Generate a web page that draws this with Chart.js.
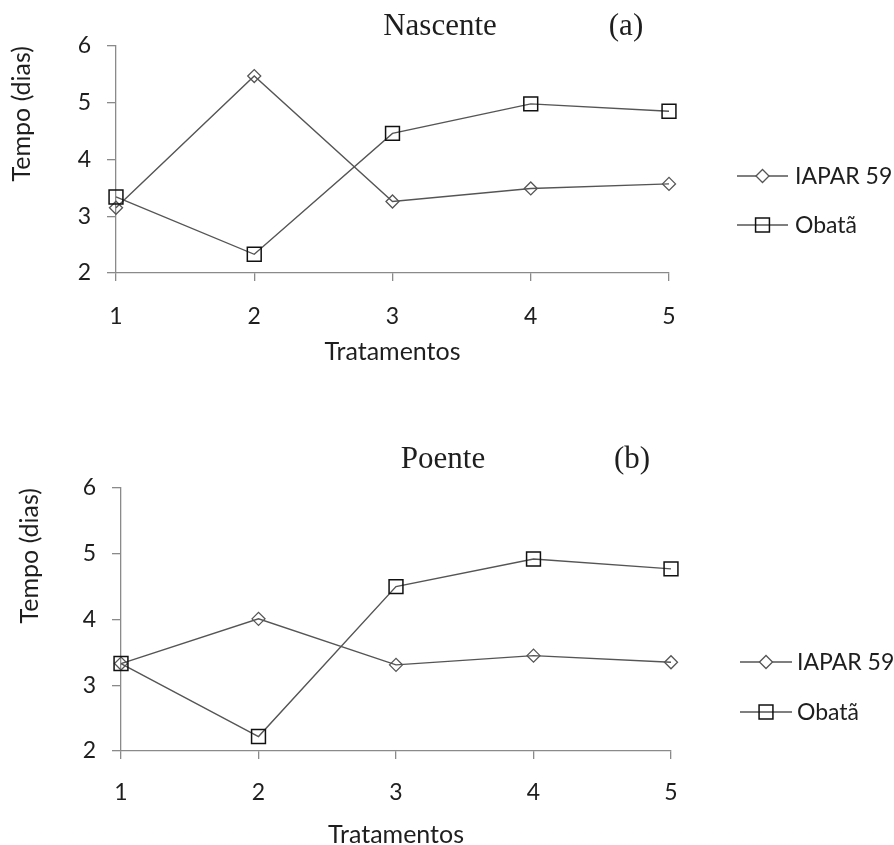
<!DOCTYPE html>
<html>
<head>
<meta charset="utf-8">
<script src="https://cdn.jsdelivr.net/npm/chart.js@4/dist/chart.umd.min.js"></script>
<style>
  html, body { margin: 0; padding: 0; background: #fff; overflow: hidden; }
  #wrap { position: relative; width: 894px; height: 845px; overflow: hidden; }
  .panel { position: absolute; left: 0; }
</style>
</head>
<body>
<div id="wrap">
  <canvas id="chart-a" class="panel" style="top:0" width="894" height="422"></canvas>
  <canvas id="chart-b" class="panel" style="top:422px" width="894" height="440"></canvas>
</div>
<script>
// ---------- data ----------
const treatments     = ['1', '2', '3', '4', '5']
const yTicks         = [2, 3, 4, 5, 6]
const nascenteIapar  = [3.15, 5.47, 3.26, 3.49, 3.57]
const nascenteObata  = [3.34, 2.33, 4.46, 4.98, 4.85]
const poenteIapar    = [3.33, 4.01, 3.31, 3.45, 3.35]
const poenteObata    = [3.33, 2.22, 4.50, 4.92, 4.77]

// ---------- styles ----------
const SANS  = 'Lato, "Open Sans", sans-serif'
const SERIF = '"Liberation Serif", "DejaVu Serif", serif'
const AXIS  = '#8a8a8a'
const LINE  = '#555555'
const TEXT  = '#1e1e1e'

// title text + panel letter drawn over the plot
const panelTitle = {
  id: 'panelTitle',
  afterDraw(chart, args, o) {
    const ctx = chart.ctx
    ctx.save()
    ctx.fillStyle = TEXT
    ctx.font = `31px ${SERIF}`
    ctx.textAlign = 'center'
    ctx.textBaseline = 'alphabetic'
    ctx.fillText(o.text, o.x, o.y)
    ctx.fillText(o.tag, o.tagX, o.y)
    ctx.restore()
  }
}

// legend: line + marker + label, like the spreadsheet one
const sideLegend = {
  id: 'sideLegend',
  afterDraw(chart, args, o) {
    const ctx = chart.ctx
    const H = Chart.helpers
    ctx.save()
    chart.data.datasets.forEach((ds, i) => {
      const y  = o.rows[i]
      const cx = o.x + o.len / 2
      ctx.strokeStyle = ds.borderColor
      ctx.lineWidth = ds.borderWidth
      ctx.beginPath()
      ctx.moveTo(o.x, y)
      ctx.lineTo(o.x + o.len, y)
      ctx.stroke()
      ctx.strokeStyle = ds.pointBorderColor
      ctx.lineWidth = ds.pointBorderWidth
      ctx.fillStyle = ds.pointStyle === 'rectRot' ? '#fff' : 'rgba(0,0,0,0)'
      H.drawPoint(ctx, { pointStyle: ds.pointStyle, radius: ds.pointRadius, rotation: 0, borderWidth: ds.pointBorderWidth }, cx, y)
      ctx.fillStyle = TEXT
      ctx.font = `23px ${SANS}`
      ctx.textAlign = 'left'
      ctx.textBaseline = 'middle'
      ctx.fillText(ds.label, o.textX, y + 1)
    })
    ctx.restore()
  }
}

function buildConfig(iapar, obata, lay) {
  const tickFont  = { family: SANS, size: 23 }
  const titleFont = { family: SANS, size: 25, lineHeight: 1.2 }
  return {
    type: 'line',
    data: {
      labels: treatments,
      datasets: [
        {
          label: 'IAPAR 59', data: iapar,
          borderColor: LINE, borderWidth: 1.4, tension: 0,
          pointStyle: 'rectRot', pointRadius: 6.5,
          pointBorderColor: '#555', pointBackgroundColor: 'rgba(0,0,0,0)', pointBorderWidth: 1.3,
          order: 1, clip: false,
        },
        {
          label: 'Obatã', data: obata,
          borderColor: LINE, borderWidth: 1.4, tension: 0,
          pointStyle: 'rect', pointRadius: 9.8,
          pointBorderColor: '#111', pointBackgroundColor: 'rgba(0,0,0,0)', pointBorderWidth: 1.5,
          order: 0, clip: false,
        },
      ]
    },
    options: {
      responsive: false, animation: false,
      events: [],
      layout: { padding: { left: lay.padLeft, right: lay.padRight, top: lay.padTop, bottom: 0 } },
      plugins: {
        legend: { display: false },
        tooltip: { enabled: false },
        panelTitle: lay.title,
        sideLegend: lay.legend,
      },
      scales: {
        x: {
          offset: false,
          ticks: { color: TEXT, font: tickFont, padding: lay.xTickPad, maxRotation: 0 },
          grid: { drawOnChartArea: false, tickLength: 8, color: AXIS, tickColor: AXIS, lineWidth: 1.3 },
          border: { color: AXIS, width: 1.3 },
          title: { display: true, text: 'Tratamentos', color: TEXT, font: titleFont, padding: { top: 0, bottom: lay.xTitlePad } },
          afterFit: s => { s.height = lay.xHeight },
        },
        y: {
          min: 2, max: 6,
          afterBuildTicks: s => { s.ticks = yTicks.map(v => ({ value: v })) },
          ticks: { color: TEXT, font: tickFont, padding: 16 },
          grid: { drawOnChartArea: false, tickLength: 9, color: AXIS, tickColor: AXIS, lineWidth: 1.3 },
          border: { color: AXIS, width: 1.3 },
          title: { display: true, text: 'Tempo (dias)', align: 'end', color: TEXT, font: titleFont, padding: { top: 3, bottom: 0 } },
          afterFit: s => { s.width = lay.yWidth },
        }
      }
    },
    plugins: [panelTitle, sideLegend]
  }
}

new Chart(document.getElementById('chart-a'), buildConfig(nascenteIapar, nascenteObata, {
  padLeft: 4, padRight: 225, padTop: 46,
  yWidth: 112, xHeight: 149, xTickPad: 22, xTitlePad: 55,
  title:  { text: 'Nascente', x: 440, tag: '(a)', tagX: 626, y: 35 },
  legend: { x: 737, len: 51, textX: 795, rows: [176, 225] },
}))

new Chart(document.getElementById('chart-b'), buildConfig(poenteIapar, poenteObata, {
  padLeft: 12, padRight: 223, padTop: 66,
  yWidth: 109, xHeight: 111, xTickPad: 20, xTitlePad: 12,
  title:  { text: 'Poente', x: 443, tag: '(b)', tagX: 632, y: 46 },
  legend: { x: 740, len: 52, textX: 797, rows: [240, 290] },
}))
</script>
</body>
</html>
